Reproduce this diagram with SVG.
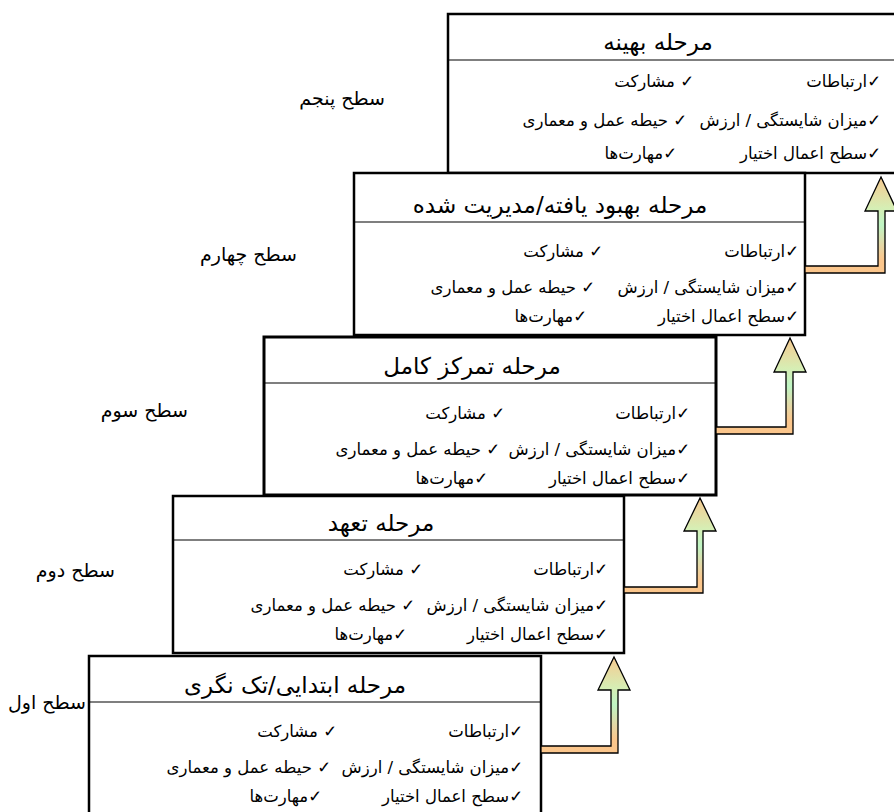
<svg xmlns="http://www.w3.org/2000/svg" width="894" height="812" viewBox="0 0 894 812">
<defs>
<style>
.box{fill:#fff;stroke:#000;stroke-width:2.5}
.hl{stroke:#000;stroke-width:1.2}
text{font-family:"DejaVu Sans","Noto Sans",sans-serif;fill:#000;direction:rtl;unicode-bidi:embed}
.t{font-size:23px;text-anchor:middle}
.i{font-size:16.5px;text-anchor:start}
.lv{font-size:19px;text-anchor:start}
.arr{stroke:#000;stroke-width:1.3;stroke-linejoin:miter}
</style>
<linearGradient id="g" x1="0" y1="0" x2="0" y2="1">
<stop offset="0" stop-color="#f6c990"/>
<stop offset="0.32" stop-color="#d6eeb4"/>
<stop offset="0.5" stop-color="#bff5c4"/>
<stop offset="0.72" stop-color="#e6d6a4"/>
<stop offset="0.86" stop-color="#fbc68c"/>
<stop offset="1" stop-color="#fbc68c"/>
</linearGradient>
</defs>
<rect width="894" height="812" fill="#fff"/>

<g id="level5">
<rect class="box" x="448" y="14" width="460" height="159"/>
<line class="hl" x1="448" y1="60" x2="894" y2="60"/>
<text class="t" x="658" y="50">مرحله بهینه</text>
<text class="i" x="881" y="87">✓ارتباطات</text>
<text class="i" x="694" y="87">✓ مشارکت</text>
<text class="i" x="881" y="126">✓میزان شایستگی / ارزش</text>
<text class="i" x="687" y="126">✓ حیطه عمل و معماری</text>
<text class="i" x="881" y="159">✓سطح اعمال اختیار</text>
<text class="i" x="677" y="159">✓مهارت‌ها</text>
</g>

<g id="level4">
<rect class="box" x="354" y="173" width="451" height="162"/>
<line class="hl" x1="354" y1="222" x2="805" y2="222"/>
<text class="t" x="560" y="213">مرحله بهبود یافته/مدیریت شده</text>
<text class="i" x="799" y="257">✓ارتباطات</text>
<text class="i" x="603" y="257">✓ مشارکت</text>
<text class="i" x="799" y="293">✓میزان شایستگی / ارزش</text>
<text class="i" x="595" y="293">✓ حیطه عمل و معماری</text>
<text class="i" x="799" y="322">✓سطح اعمال اختیار</text>
<text class="i" x="587" y="322">✓مهارت‌ها</text>
</g>

<g id="level3">
<rect class="box" x="264" y="337" width="452" height="158" style="stroke-width:3"/>
<line class="hl" x1="264" y1="383" x2="716" y2="383"/>
<text class="t" x="472" y="374">مرحله تمرکز کامل</text>
<text class="i" x="690" y="419">✓ارتباطات</text>
<text class="i" x="505" y="419">✓ مشارکت</text>
<text class="i" x="690" y="455">✓میزان شایستگی / ارزش</text>
<text class="i" x="500" y="455">✓ حیطه عمل و معماری</text>
<text class="i" x="690" y="484">✓سطح اعمال اختیار</text>
<text class="i" x="488" y="484">✓مهارت‌ها</text>
</g>

<g id="level2">
<rect class="box" x="173" y="496" width="451" height="157"/>
<line class="hl" x1="173" y1="540" x2="624" y2="540"/>
<text class="t" x="381" y="531">مرحله تعهد</text>
<text class="i" x="608" y="575">✓ارتباطات</text>
<text class="i" x="423" y="575">✓ مشارکت</text>
<text class="i" x="608" y="611">✓میزان شایستگی / ارزش</text>
<text class="i" x="415" y="611">✓ حیطه عمل و معماری</text>
<text class="i" x="608" y="640">✓سطح اعمال اختیار</text>
<text class="i" x="407" y="640">✓مهارت‌ها</text>
</g>

<g id="level1">
<rect class="box" x="89" y="656" width="452" height="170"/>
<line class="hl" x1="89" y1="702" x2="541" y2="702"/>
<text class="t" x="295" y="693">مرحله ابتدایی/تک نگری</text>
<text class="i" x="523" y="737">✓ارتباطات</text>
<text class="i" x="337" y="737">✓ مشارکت</text>
<text class="i" x="523" y="773">✓میزان شایستگی / ارزش</text>
<text class="i" x="331" y="773">✓ حیطه عمل و معماری</text>
<text class="i" x="523" y="802">✓سطح اعمال اختیار</text>
<text class="i" x="322" y="802">✓مهارت‌ها</text>
</g>

<g id="labels">
<text class="lv" x="385" y="105">سطح پنجم</text>
<text class="lv" x="297" y="261">سطح چهارم</text>
<text class="lv" x="188" y="417">سطح سوم</text>
<text class="lv" x="115" y="577">سطح دوم</text>
<text class="lv" x="86" y="709">سطح اول</text>
</g>

<g id="connectors">
<path class="arr" fill="url(#g)" d="M541,746 L611,746 L611,690 L598,690 L614,657 L630,690 L618,690 L618,753 L541,753 Z"/>
<path class="arr" fill="url(#g)" d="M624,587 L697,587 L697,531 L684,531 L700,498 L716,531 L703,531 L703,593 L624,593 Z"/>
<path class="arr" fill="url(#g)" d="M716,427 L786,427 L786,372 L774,372 L790,338 L806,372 L793,372 L793,434 L716,434 Z"/>
<path class="arr" fill="url(#g)" d="M805,266 L878,266 L878,211 L865,211 L881,177 L897,211 L885,211 L885,273 L805,273 Z"/>
</g>
</svg>
